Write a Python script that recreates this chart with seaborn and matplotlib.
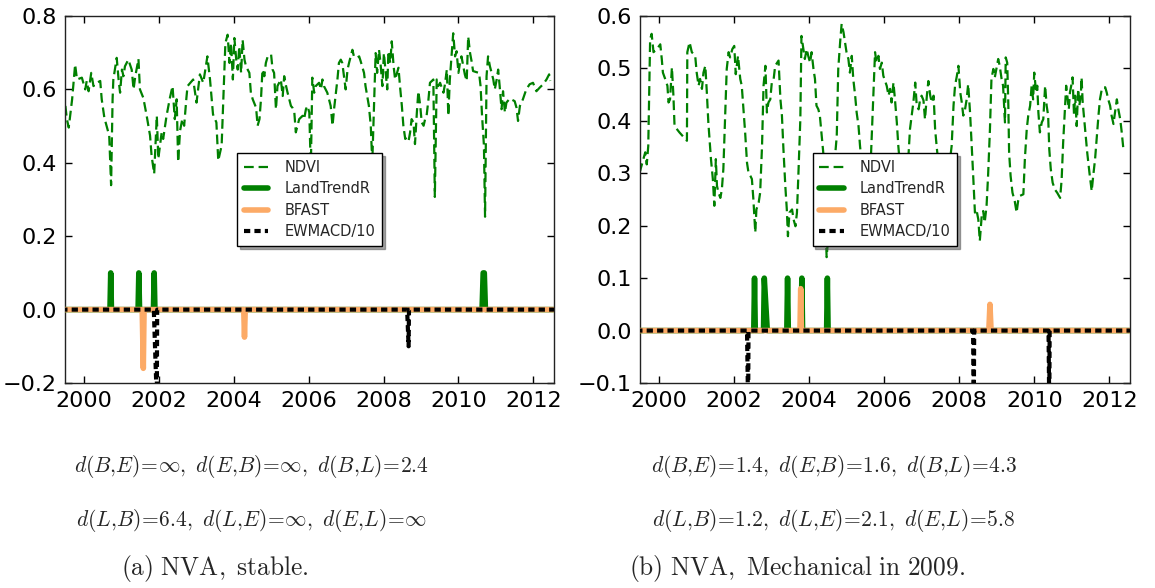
import matplotlib
matplotlib.use("Agg")
import matplotlib.pyplot as plt
import seaborn as sns
import pandas as pd

# ---------------- data: panel (a) NVA, stable ----------------
ndvi_a_years = [1999.51, 1999.55, 1999.60, 1999.69, 1999.77, 1999.82, 1999.95, 2000.04, 2000.08, 2000.13,
                2000.20, 2000.26, 2000.35, 2000.44, 2000.48, 2000.55, 2000.68, 2000.73, 2000.77, 2000.79,
                2000.88, 2000.93, 2000.97, 2001.02, 2001.06, 2001.10, 2001.19, 2001.28, 2001.33, 2001.37,
                2001.46, 2001.50, 2001.59, 2001.68, 2001.77, 2001.81, 2001.88, 2001.95, 2001.99, 2002.08,
                2002.12, 2002.21, 2002.30, 2002.37, 2002.43, 2002.48, 2002.52, 2002.57, 2002.63, 2002.68,
                2002.74, 2002.77, 2002.92, 2003.01, 2003.10, 2003.19, 2003.30, 2003.37, 2003.45, 2003.54,
                2003.59, 2003.68, 2003.78,
                2003.84, 2003.89, 2003.93, 2003.98, 2004.02, 2004.07, 2004.11, 2004.15, 2004.20, 2004.24,
                2004.29, 2004.33, 2004.42, 2004.46, 2004.51, 2004.60, 2004.64, 2004.69, 2004.73, 2004.77,
                2004.82, 2004.86, 2004.91, 2005.00, 2005.04, 2005.08, 2005.13, 2005.17, 2005.26, 2005.31,
                2005.35, 2005.40, 2005.44, 2005.53, 2005.57, 2005.62, 2005.66, 2005.75, 2005.84, 2005.88,
                2005.93, 2005.97, 2006.02, 2006.06, 2006.10, 2006.15, 2006.19, 2006.28, 2006.33, 2006.37,
                2006.41, 2006.50, 2006.59, 2006.64, 2006.68, 2006.72, 2006.77, 2006.81, 2006.86, 2006.90,
                2006.99, 2007.04, 2007.08, 2007.17, 2007.21, 2007.30, 2007.35, 2007.39, 2007.48, 2007.52,
                2007.61, 2007.66, 2007.70, 2007.79, 2007.83, 2007.88, 2007.92, 2007.97, 2008.01, 2008.05,
                2008.10,
                2008.13, 2008.18, 2008.22, 2008.27, 2008.31, 2008.36, 2008.40, 2008.44, 2008.49, 2008.53,
                2008.58, 2008.62, 2008.67, 2008.71, 2008.75, 2008.80, 2008.84, 2008.89, 2008.93, 2008.98,
                2009.02, 2009.07, 2009.11, 2009.15, 2009.20, 2009.24, 2009.33, 2009.37, 2009.42, 2009.46,
                2009.51, 2009.60, 2009.64, 2009.69, 2009.73, 2009.77, 2009.82, 2009.86, 2009.91, 2009.95,
                2010.00, 2010.04, 2010.08, 2010.17, 2010.22, 2010.26, 2010.31, 2010.35, 2010.39, 2010.48,
                2010.55, 2010.59, 2010.63, 2010.68, 2010.71, 2010.75, 2010.79, 2010.84, 2010.93, 2010.97,
                2011.02, 2011.06, 2011.10, 2011.15, 2011.19, 2011.24, 2011.28, 2011.37, 2011.50, 2011.55,
                2011.59, 2011.64, 2011.72, 2011.81, 2011.90, 2011.99, 2012.08, 2012.17, 2012.26, 2012.35,
                2012.42, 2012.45]
ndvi_a_vals = [0.555, 0.519, 0.496, 0.573, 0.668, 0.627, 0.632, 0.600, 0.623, 0.595,
               0.645, 0.609, 0.618, 0.623, 0.573, 0.523, 0.474, 0.339, 0.573, 0.627,
               0.686, 0.627, 0.591, 0.654, 0.636, 0.663, 0.681, 0.654, 0.600, 0.632,
               0.683, 0.600, 0.577, 0.528, 0.474, 0.420, 0.370, 0.528, 0.411, 0.483,
               0.465, 0.528, 0.577, 0.609, 0.519, 0.573, 0.402, 0.487, 0.519, 0.501,
               0.577, 0.609, 0.627, 0.564, 0.641, 0.618, 0.690, 0.627, 0.532, 0.510,
               0.406, 0.447, 0.726,
               0.749, 0.672, 0.726, 0.627, 0.740, 0.681, 0.654, 0.717, 0.645, 0.735,
               0.681, 0.663, 0.645, 0.591, 0.573, 0.550, 0.501, 0.519, 0.573, 0.654,
               0.636, 0.672, 0.690, 0.695, 0.654, 0.645, 0.546, 0.609, 0.627, 0.582,
               0.636, 0.609, 0.591, 0.555, 0.550, 0.537, 0.483, 0.519, 0.528, 0.519,
               0.546, 0.555, 0.537, 0.380, 0.632, 0.591, 0.609, 0.618, 0.600, 0.627,
               0.609, 0.591, 0.555, 0.501, 0.546, 0.582, 0.627, 0.672, 0.681, 0.672,
               0.600, 0.654, 0.672, 0.708, 0.690, 0.686, 0.690, 0.677, 0.645, 0.609,
               0.555, 0.501, 0.400, 0.699, 0.645, 0.708, 0.672, 0.609, 0.699, 0.654,
               0.600,
               0.704, 0.672, 0.731, 0.663, 0.627, 0.645, 0.659, 0.609, 0.555, 0.501,
               0.465, 0.469, 0.460, 0.483, 0.519, 0.510, 0.451, 0.537, 0.595, 0.555,
               0.510, 0.501, 0.519, 0.528, 0.573, 0.618, 0.627, 0.307, 0.627, 0.609,
               0.618, 0.591, 0.614, 0.654, 0.528, 0.627, 0.699, 0.753, 0.690, 0.704,
               0.645, 0.672, 0.690, 0.641, 0.623, 0.744, 0.699, 0.677, 0.650, 0.647,
               0.645, 0.609, 0.528, 0.447, 0.253, 0.636, 0.690, 0.663, 0.627, 0.600,
               0.627, 0.654, 0.609, 0.546, 0.595, 0.537, 0.564, 0.575, 0.568, 0.550,
               0.514, 0.555, 0.573, 0.600, 0.614, 0.618, 0.595, 0.605, 0.614, 0.627,
               0.641, 0.623]

ltr_a_years = [1999.40, 2000.70, 2000.72, 2000.74, 2001.45, 2001.47, 2001.49, 2001.86, 2001.88, 2001.90,
               2010.63, 2010.66, 2010.69, 2010.72, 2012.60]
ltr_a_vals = [0.0, 0.0, 0.1, 0.0, 0.0, 0.1, 0.0, 0.0, 0.1, 0.0,
              0.0, 0.1, 0.1, 0.0, 0.0]

bfast_a_years = [1999.40, 2001.56, 2001.59, 2001.61, 2004.27, 2004.29, 2004.31, 2012.60]
bfast_a_vals = [0.0, 0.0, -0.16, 0.0, 0.0, -0.075, 0.0, 0.0]

ewmacd_a_years = [1999.40, 2001.87, 2001.95, 2001.96, 2008.63, 2008.67, 2008.68, 2012.60]
ewmacd_a_vals = [0.0, 0.0, -0.25, 0.0, 0.0, -0.10, 0.0, 0.0]

# ---------------- data: panel (b) NVA, Mechanical in 2009 ----------------
ndvi_b_years = [1999.48, 1999.50, 1999.64, 1999.68, 1999.72, 1999.77, 1999.81, 1999.86, 1999.95, 2000.04,
                2000.08, 2000.11, 2000.17, 2000.23, 2000.26, 2000.30, 2000.35, 2000.39, 2000.42, 2000.55,
                2000.75, 2000.76, 2000.82, 2000.88, 2000.97, 2001.01, 2001.06, 2001.10, 2001.15, 2001.19,
                2001.24, 2001.28, 2001.32, 2001.39, 2001.44, 2001.48, 2001.52, 2001.55, 2001.59, 2001.64,
                2001.68, 2001.72, 2001.77, 2001.81, 2001.86, 2001.90, 2001.96, 2002.01, 2002.05, 2002.11,
                2002.17, 2002.21, 2002.26, 2002.30, 2002.35, 2002.39, 2002.44, 2002.48, 2002.52, 2002.57,
                2002.60, 2002.66, 2002.70, 2002.75, 2002.79, 2002.84, 2002.88, 2002.92, 2002.97, 2003.01,
                2003.06, 2003.10, 2003.19, 2003.24, 2003.28, 2003.32, 2003.37, 2003.41, 2003.44, 2003.48,
                2003.55, 2003.59, 2003.64, 2003.68, 2003.72, 2003.77,
                2003.80, 2003.85, 2003.89, 2003.94, 2003.98, 2004.03, 2004.07, 2004.12, 2004.16, 2004.20,
                2004.25, 2004.29, 2004.34, 2004.38, 2004.47, 2004.74, 2004.78, 2004.83, 2004.87, 2004.92,
                2004.96, 2005.00, 2005.05, 2005.09, 2005.14, 2005.18, 2005.23, 2005.27, 2005.32, 2005.36,
                2005.50, 2005.60, 2005.76, 2005.80, 2005.85, 2005.89, 2005.94, 2005.98, 2006.07, 2006.12,
                2006.16, 2006.20, 2006.25, 2006.29, 2006.34, 2006.38, 2006.50, 2006.58, 2006.69, 2006.78,
                2006.83, 2006.87, 2006.92, 2006.96, 2007.00, 2007.05, 2007.09, 2007.14, 2007.18, 2007.23,
                2007.27, 2007.32, 2007.36, 2007.40, 2007.55, 2007.65, 2007.80, 2007.85, 2007.89, 2007.94,
                2007.98, 2008.03, 2008.07,
                2008.11, 2008.15, 2008.20, 2008.24, 2008.29, 2008.33, 2008.37, 2008.42, 2008.46, 2008.51,
                2008.55, 2008.60, 2008.64, 2008.68, 2008.73, 2008.77, 2008.82, 2008.86, 2008.91, 2008.95,
                2009.00, 2009.04, 2009.08, 2009.13, 2009.17, 2009.22, 2009.24, 2009.28, 2009.31, 2009.33,
                2009.37, 2009.42, 2009.48, 2009.53, 2009.57, 2009.62, 2009.71, 2009.75, 2009.80, 2009.84,
                2009.89, 2009.93, 2009.97, 2010.00, 2010.05, 2010.08, 2010.11, 2010.15, 2010.20, 2010.24,
                2010.29, 2010.33, 2010.37, 2010.40, 2010.44, 2010.49, 2010.55, 2010.61, 2010.69, 2010.73,
                2010.77, 2010.82, 2010.85, 2010.88, 2010.92, 2010.95, 2011.00, 2011.02, 2011.06, 2011.09,
                2011.13, 2011.17, 2011.20, 2011.24, 2011.26, 2011.29, 2011.33, 2011.36, 2011.41, 2011.47,
                2011.53, 2011.57, 2011.62, 2011.66, 2011.71, 2011.75, 2011.80, 2011.84, 2011.89, 2011.93,
                2011.97, 2012.02, 2012.06, 2012.11, 2012.15, 2012.20, 2012.24, 2012.29, 2012.33, 2012.37]
ndvi_b_vals = [0.335, 0.304, 0.340, 0.317, 0.352, 0.556, 0.566, 0.531, 0.537, 0.546,
               0.518, 0.492, 0.480, 0.467, 0.435, 0.441, 0.502, 0.448, 0.390, 0.378,
               0.362, 0.531, 0.550, 0.531, 0.524, 0.492, 0.467, 0.480, 0.461, 0.492,
               0.505, 0.454, 0.397, 0.327, 0.289, 0.238, 0.327, 0.276, 0.263, 0.253,
               0.269, 0.308, 0.416, 0.499, 0.531, 0.521, 0.537, 0.543, 0.489, 0.524,
               0.480, 0.467, 0.416, 0.378, 0.320, 0.301, 0.295, 0.289, 0.250, 0.187,
               0.231, 0.244, 0.263, 0.352, 0.467, 0.505, 0.416, 0.435, 0.441, 0.473,
               0.480, 0.505, 0.515, 0.441, 0.410, 0.346, 0.276, 0.231, 0.180, 0.225,
               0.231, 0.212, 0.199, 0.225, 0.301, 0.403,
               0.562, 0.537, 0.518, 0.537, 0.524, 0.511, 0.531, 0.499, 0.480, 0.429,
               0.422, 0.410, 0.371, 0.340, 0.140, 0.371, 0.499, 0.550, 0.585, 0.569,
               0.550, 0.531, 0.518, 0.492, 0.524, 0.480, 0.448, 0.416, 0.390, 0.352,
               0.250, 0.240, 0.531, 0.511, 0.524, 0.499, 0.511, 0.486, 0.467, 0.448,
               0.461, 0.435, 0.473, 0.441, 0.397, 0.352, 0.250, 0.245, 0.384, 0.435,
               0.473, 0.429, 0.422, 0.441, 0.448, 0.439, 0.403, 0.448, 0.476, 0.448,
               0.435, 0.448, 0.384, 0.352, 0.245, 0.260, 0.352, 0.429, 0.467, 0.486,
               0.505, 0.454, 0.435,
               0.410, 0.419, 0.441, 0.470, 0.416, 0.359, 0.301, 0.225, 0.231, 0.212,
               0.171, 0.218, 0.228, 0.206, 0.238, 0.295, 0.384, 0.480, 0.499, 0.483,
               0.502, 0.518, 0.505, 0.480, 0.467, 0.397, 0.521, 0.511, 0.429, 0.340,
               0.295, 0.263, 0.247, 0.225, 0.247, 0.257, 0.260, 0.327, 0.384, 0.410,
               0.429, 0.467, 0.441, 0.492, 0.454, 0.467, 0.416, 0.378, 0.397, 0.403,
               0.467, 0.429, 0.410, 0.346, 0.308, 0.282, 0.269, 0.263, 0.253, 0.289,
               0.359, 0.429, 0.467, 0.448, 0.422, 0.454, 0.473, 0.483, 0.410, 0.448,
               0.390, 0.461, 0.429, 0.448, 0.483, 0.435, 0.403, 0.378, 0.340, 0.301,
               0.266, 0.295, 0.327, 0.365, 0.410, 0.441, 0.461, 0.464, 0.464, 0.454,
               0.441, 0.429, 0.410, 0.394, 0.416, 0.441, 0.422, 0.403, 0.378, 0.349]

ltr_b_years = [1999.40, 2002.53, 2002.55, 2002.57, 2002.79, 2002.81, 2002.89, 2003.41, 2003.43, 2003.45,
               2003.79, 2003.81, 2003.83, 2004.47, 2004.49, 2004.51, 2012.60]
ltr_b_vals = [0.0, 0.0, 0.1, 0.0, 0.0, 0.1, 0.0, 0.0, 0.1, 0.0,
              0.0, 0.1, 0.0, 0.0, 0.1, 0.0, 0.0]

bfast_b_years = [1999.40, 2003.76, 2003.78, 2003.80, 2008.79, 2008.82, 2008.85, 2012.60]
bfast_b_vals = [0.0, 0.0, 0.08, 0.0, 0.0, 0.05, 0.0, 0.0]

ewmacd_b_years = [1999.40, 2002.35, 2002.38, 2002.39, 2008.37, 2008.39, 2008.40, 2010.38, 2010.40, 2010.41, 2012.60]
ewmacd_b_vals = [0.0, 0.0, -0.15, 0.0, 0.0, -0.15, 0.0, 0.0, -0.15, 0.0, 0.0]

series_labels = ["NDVI", "LandTrendR", "BFAST", "EWMACD/10"]
x_ticks = [2000, 2002, 2004, 2006, 2008, 2010, 2012]
y_ticks_a = [-0.2, 0.0, 0.2, 0.4, 0.6, 0.8]
y_ticks_b = [-0.1, 0.0, 0.1, 0.2, 0.3, 0.4, 0.5, 0.6]

EQ = r"\!=\!"
dist_a = [r"$d(B{,}E)" + EQ + r"\infty,\ d(E{,}B)" + EQ + r"\infty,\ d(B{,}L)" + EQ + r"2.4$",
          r"$d(L{,}B)" + EQ + r"6.4,\ d(L{,}E)" + EQ + r"\infty,\ d(E{,}L)" + EQ + r"\infty$"]
dist_b = [r"$d(B{,}E)" + EQ + r"1.4,\ d(E{,}B)" + EQ + r"1.6,\ d(B{,}L)" + EQ + r"4.3$",
          r"$d(L{,}B)" + EQ + r"1.2,\ d(L{,}E)" + EQ + r"2.1,\ d(E{,}L)" + EQ + r"5.8$"]
caption_a = r"$\mathrm{(a)\ NVA,\ stable.}$"
caption_b = r"$\mathrm{(b)\ NVA,\ Mechanical\ in\ 2009.}$"

# ---------------- style ----------------
sns.set_style("ticks")
plt.rcParams["font.family"] = ["DejaVu Sans"]
plt.rcParams["mathtext.fontset"] = "cm"
plt.rcParams["lines.scale_dashes"] = False

GREEN = "#008000"
ORANGE = "#fcaa66"

W, H = 1155, 588
fig = plt.figure(figsize=(W / 100, H / 100), dpi=100)
ax_a = fig.add_axes([65 / W, 1 - 383 / H, 489 / W, 367 / H])
ax_b = fig.add_axes([640 / W, 1 - 383 / H, 490 / W, 367 / H])


def draw(ax, ndvi_x, ndvi_y, ltr_x, ltr_y, bf_x, bf_y, ew_x, ew_y, ylim, yticks):
    sns.lineplot(x=ndvi_x, y=ndvi_y, ax=ax, color=GREEN, linewidth=1.6,
                 linestyle=(0, (7, 3.5)), sort=False, estimator=None, zorder=2)
    sns.lineplot(x=ltr_x, y=ltr_y, ax=ax, color=GREEN, linewidth=4,
                 sort=False, estimator=None, zorder=3)
    sns.lineplot(x=bf_x, y=bf_y, ax=ax, color=ORANGE, linewidth=4,
                 sort=False, estimator=None, zorder=4)
    sns.lineplot(x=ew_x, y=ew_y, ax=ax, color="black", linewidth=3,
                 linestyle=(0, (4.5, 3)), sort=False, estimator=None, zorder=5)
    lines = ax.get_lines()
    for ln, lab in zip(lines, series_labels):
        ln.set_label(lab)
    ax.set_xlim(1999.5, 2012.55)
    ax.set_ylim(*ylim)
    ax.set_xticks(x_ticks)
    ax.set_xticklabels([str(t) for t in x_ticks])
    ax.set_yticks(yticks)
    ax.set_yticklabels([f"{t:.1f}".replace("-", "\u2212") for t in yticks])
    ax.tick_params(direction="in", top=True, right=True, length=5, width=1,
                   labelsize=16, pad=6, colors="black")
    for sp in ax.spines.values():
        sp.set_visible(True)
        sp.set_linewidth(1.0)
        sp.set_color("#222222")
    ax.set_xlabel("")
    ax.set_ylabel("")
    leg = ax.legend(handles=lines[:4], loc="center", fontsize=10.5, shadow=True,
                    fancybox=False, edgecolor="black", framealpha=1,
                    handlelength=1.7, handletextpad=1.1, borderpad=0.45,
                    labelspacing=0.45)
    leg.get_frame().set_linewidth(1.0)


draw(ax_a, ndvi_a_years, ndvi_a_vals, ltr_a_years, ltr_a_vals, bfast_a_years, bfast_a_vals,
     ewmacd_a_years, ewmacd_a_vals, (-0.2, 0.8), y_ticks_a)
draw(ax_b, ndvi_b_years, ndvi_b_vals, ltr_b_years, ltr_b_vals, bfast_b_years, bfast_b_vals,
     ewmacd_b_years, ewmacd_b_vals, (-0.1, 0.6), y_ticks_b)

fig.text(251 / W, 1 - 466 / H, dist_a[0], ha="center", va="center", fontsize=15.5)
fig.text(251 / W, 1 - 521 / H, dist_a[1], ha="center", va="center", fontsize=15.5)
fig.text(215 / W, 1 - 568 / H, caption_a, ha="center", va="center", fontsize=18.3)
fig.text(834 / W, 1 - 466 / H, dist_b[0], ha="center", va="center", fontsize=15.5)
fig.text(834 / W, 1 - 521 / H, dist_b[1], ha="center", va="center", fontsize=15.5)
fig.text(797 / W, 1 - 568 / H, caption_b, ha="center", va="center", fontsize=18.3)

fig.savefig("out.png", dpi=100, facecolor="white")
